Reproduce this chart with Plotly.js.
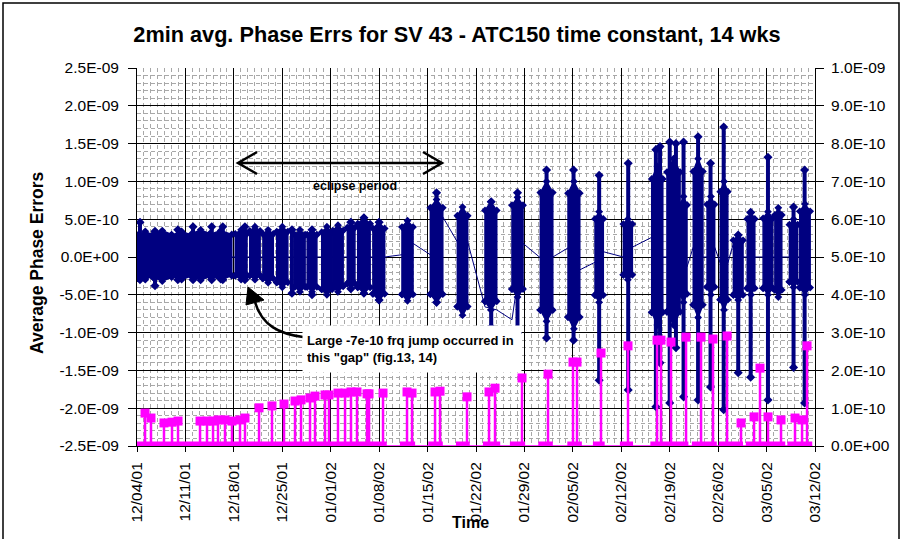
<!DOCTYPE html>
<html>
<head>
<meta charset="utf-8">
<script src="https://cdn.plot.ly/plotly-3.0.1.min.js"></script>
<style>html,body{margin:0;padding:0;background:#fff}#chart{width:902px;height:539px}</style>
</head>
<body>
<div id="chart"></div>
<script>
// ---------- DATA (time in days since 12/04/01, values in units of 1e-10) ----------
const UNIT = 1e-10;
const startDate = '2001-12-04';

// Blue series: phase-error clusters (dense 2-min data, summarised)
const coreStart = [0.1,2.3,5.0,7.9,10.5, 14.2,16.3,18.2,20.2,22.8,24.6,26.7,28.3,30.4,31.9,34.1, 38.3,42.4,46.3,50.3,54.2,58.3,62.3,66.2, 70.3,74.4,76.6,78.5,80.4,82.4,84.3,86.2,88.2,90.5,92.2,94.3,95.8];
const coreEnd   = [2.3,5.0,7.9,10.5,13.7, 15.9,17.8,19.7,21.8,24.3,26.0,28.2,29.8,31.5,33.7,35.8, 39.9,44.2,47.8,52.0,55.8,60.1,64.0,67.4, 71.6,76.0,78.5,79.5,81.8,83.5,85.4,87.6,89.3,91.9,93.2,95.5,97.3];
const coreLo    = [-3.0,-3.2,-3.0,-3.1,-3.0, -3.0,-3.0,-3.4,-4.0,-4.6,-4.6,-5.0,-4.6,-4.2,-4.8,-5.7, -5.8,-6.0,-7.7,-7.0,-5.3,-8.5,-9.5,-6.0, -3.0,-9.0,-9.0,-6.0,-8.0,-5.0,-7.0,-5.7,-5.0,-5.0,-5.3,-4.0,-5.0];
const coreHi    = [3.4,3.5,3.4,3.6,3.5, 3.6,4.0,3.6,4.0,3.6,3.6,4.0,4.2,4.6,5.2,4.6, 4.8,7.6,6.6,7.3,7.9,10.0,10.0,6.0, 5.0,12.0,13.0,8.0,13.0,8.0,10.0,2.9,5.9,6.0,6.5,5.0,7.0];
const linkIn    = [0,0,0,0,0, 0,0,0,0,0,0,0,0,0,0,0, 0.3,0.3,2.0,-6.6,-8.3,-0.1,1.2,-0.7, 0,2.6,0,0,1.3,0,-0.8,1.8,0,0,0,0,0];
const linkOut   = [0,0,0,0,0, 0,0,0,0,0,0,0,0,0,0,0, 1.8,5.3,2.0,-7.0,1.8,0,-1.7,0.7, 1.3,0,0,-1.3,0,1.3,-0.8,0,0,0,0,0,0];

const spikeDay = [0.43,2.6,5.9,8.1,10.8,12.4,15.6, 22.4,25.3,30.9,32.8,35.0, 43.3,51.2,55.0,59.2,63.1,66.8, 71.0,75.0,75.6,77.0,77.9,79.0,81.1,82.9,84.8,86.9,88.7,91.2,94.9,96.5];
const spikeLo  = [-3.0,-3.8,-3.0,-3.0,-3.0,-3.0,-3.0, -4.8,-5.0,-4.2,-4.8,-5.7, -6.0,-9.3,-10.05,-10.7,-11.0,-16.3, -17.6,-19.8,-14.0,-19.3,-12.0,-18.5,-18.9,-17.2,-20.2,-15.3,-15.9,-18.9,-14.6,-19.3];
const spikeHi  = [4.6,3.4,3.6,4.0,4.0,4.0,4.0, 3.6,3.6,4.6,5.2,4.6, 8.5,7.3,8.5,11.5,11.5,10.8, 12.4,14.2,14.6,15.2,15.0,15.2,15.9,12.4,17.2,2.9,5.9,13.2,6.6,11.5];

// Magenta series (right axis): event values and zero-runs
const stemDay = [1.16,2.02,3.90,5.06,5.93,9.11,10.12,10.99,11.71,12.72,13.73,14.89,15.61,17.64,19.51,21.25,22.84,23.71,25.01,25.73,27.18,27.75,29.05,30.07,30.93,31.80,33.25,33.54,35.56,39.03,39.75,43.08,43.80,47.70,50.88,51.75,55.65,59.41,63.02,63.60,67.07,70.97,75.17,75.74,77.19,79.36,81.53,83.26,85.29,87.31,89.19,90.05,91.21,93.09,95.11,96.13,96.85];
const stemVal = [0.87,0.74,0.61,0.63,0.66,0.66,0.66,0.66,0.69,0.69,0.66,0.69,0.74,1.01,1.06,1.11,1.19,1.22,1.27,1.32,1.35,1.35,1.40,1.40,1.43,1.43,1.38,1.38,1.40,1.43,1.40,1.43,1.45,1.30,1.43,1.53,1.80,1.90,2.22,2.22,2.46,2.65,2.80,2.80,2.75,2.88,2.88,2.83,2.91,0.61,0.77,2.06,0.77,0.69,0.74,0.69,2.65];
const bandStart = [0,38.0,42.1,46.1,50.0,53.9,58.0,62.2,65.9,69.8,74.2,80.2,84.1,88.0,94.0];
const bandEnd   = [36.1,40.2,44.2,48.1,52.5,56.1,60.1,64.3,67.6,71.7,79.7,83.8,87.6,93.7,97.6];

const leftTickVals = [2.5e-9,2.0e-9,1.5e-9,1.0e-9,5.0e-10,0,-5.0e-10,-1.0e-9,-1.5e-9,-2.0e-9,-2.5e-9];
const leftTickText = ['2.5E-09','2.0E-09','1.5E-09','1.0E-09','5.0E-10','0.0E+00','-5.0E-10','-1.0E-09','-1.5E-09','-2.0E-09','-2.5E-09'];
const rightTickVals = [0,1e-10,2e-10,3e-10,4e-10,5e-10,6e-10,7e-10,8e-10,9e-10,1e-9];
const rightTickText = ['0.0E+00','1.0E-10','2.0E-10','3.0E-10','4.0E-10','5.0E-10','6.0E-10','7.0E-10','8.0E-10','9.0E-10','1.0E-09'];

// ---------- BUILD ----------
const DAY = 86400000;
const T0 = Date.parse(startDate + 'T00:00:00Z');
const D = d => new Date(T0 + d * DAY).toISOString().slice(0, 19).replace('T', ' ');
const NAVY = '#000080', PINK = '#FF00FF';
const TAPER = 0.08; // drawing style: rounded-off cluster ends

// connectors
const lx = [], ly = [];
coreStart.forEach((s, i) => { lx.push(D(s), D(coreEnd[i])); ly.push(linkIn[i] * UNIT, linkOut[i] * UNIT); });
// cores as filled polygons (slightly tapered at top and bottom)
const cx = [], cy = [];
coreStart.forEach((s, i) => {
  const e = coreEnd[i], c = (s + e) / 2, lo = coreLo[i] * UNIT, hi = coreHi[i] * UNIT, t = (hi - lo) * TAPER;
  cx.push(D(s), D(s), D(c), D(e), D(e), D(c), D(s), null);
  cy.push(lo + t, hi - t, hi, hi - t, lo + t, lo, lo + t, null);
});
// spikes
const sx = [], sy = [];
spikeDay.forEach((d, i) => { sx.push(D(d), D(d), null); sy.push(spikeLo[i] * UNIT, spikeHi[i] * UNIT, null); });
// magenta
const bx = [], by = [];
bandStart.forEach((s, i) => { bx.push(D(s), D(bandEnd[i]), null); by.push(0, 0, null); });
const px = [], py = [];
stemDay.forEach((d, i) => { px.push(D(d), D(d), null); py.push(0, stemVal[i] * UNIT, null); });

const traces = [
  {x: lx, y: ly, mode: 'lines', line: {color: NAVY, width: 1}, hoverinfo: 'skip'},
  {x: cx, y: cy, mode: 'lines+markers', fill: 'toself', fillcolor: NAVY, line: {color: NAVY, width: 1.5},
   marker: {symbol: 'diamond', size: 6, color: NAVY}, hoverinfo: 'skip'},
  {x: sx, y: sy, mode: 'lines+markers', line: {color: NAVY, width: 4},
   marker: {symbol: 'diamond', size: 7, color: NAVY}, hoverinfo: 'skip'},
  {x: [D(0), D(97.6)], y: [0, 0], yaxis: 'y2', mode: 'lines', line: {color: PINK, width: 1.5}, hoverinfo: 'skip'},
  {x: bx, y: by, yaxis: 'y2', mode: 'lines', line: {color: PINK, width: 9}, hoverinfo: 'skip'},
  {x: px, y: py, yaxis: 'y2', mode: 'lines', line: {color: PINK, width: 2.5}, hoverinfo: 'skip'},
  {x: stemDay.map(D), y: stemVal.map(v => v * UNIT), yaxis: 'y2', mode: 'markers',
   marker: {symbol: 'square', size: 9, color: PINK}, hoverinfo: 'skip'}
];

// pixel -> paper helpers for decorations
const PL = 137, PR = 815, PT = 68, PB = 446;
const X = p => (p - PL) / (PR - PL);
const Y = p => (PB - p) / (PB - PT);
const pt = (a, b) => X(a).toFixed(5) + ',' + Y(b).toFixed(5);

const layout = {
  width: 902, height: 539,
  margin: {l: PL, r: 902 - PR, t: PT, b: 539 - PB, pad: 0},
  paper_bgcolor: '#fff', plot_bgcolor: '#fff',
  showlegend: false,
  font: {family: 'Liberation Sans, Arial, sans-serif', color: '#000', size: 15},
  title: {text: '<b>2min avg. Phase Errs for SV 43 - ATC150 time constant, 14 wks</b>',
          x: 457 / 902, xanchor: 'center', xref: 'container', y: 1 - 34 / 539, yanchor: 'middle', yref: 'container',
          font: {size: 21.7, color: '#000'}},
  xaxis: {
    type: 'date', range: [D(0), D(98)], tickmode: 'linear', tick0: D(0), dtick: 7 * DAY,
    tickformat: '%m/%d/%y', tickangle: -90, tickfont: {size: 15.5},
    showgrid: true, gridcolor: '#000', gridwidth: 1, zeroline: false,
    minor: {dtick: DAY, tick0: D(0), showgrid: true, gridcolor: '#a8a8a8', gridwidth: 1, griddash: '4px,3px'},
    showline: true, linecolor: '#000', linewidth: 1, ticks: 'outside', ticklen: 5, tickcolor: '#000',
    ticklabelstandoff: 4
  },
  yaxis: {
    range: [-2.5e-9, 2.5e-9], tickmode: 'array', tickvals: leftTickVals, ticktext: leftTickText,
    tickfont: {size: 15.5}, showgrid: true, gridcolor: '#000', gridwidth: 1, zeroline: false,
    minor: {dtick: 1e-10, tick0: 0, showgrid: true, gridcolor: '#a8a8a8', gridwidth: 1, griddash: '4px,3px'},
    showline: true, linecolor: '#000', linewidth: 1, ticks: 'outside', ticklen: 8, tickcolor: '#000',
    ticklabelstandoff: 6
  },
  yaxis2: {
    overlaying: 'y', side: 'right', range: [0, 1e-9], tickmode: 'array', tickvals: rightTickVals, ticktext: rightTickText,
    tickfont: {size: 15.5}, showgrid: false, zeroline: false,
    showline: true, linecolor: '#000', linewidth: 1, ticks: 'outside', ticklen: 8, tickcolor: '#000',
    ticklabelstandoff: 4
  },
  shapes: [
    {type: 'rect', xref: 'paper', yref: 'paper', x0: X(3), x1: X(899), y0: Y(560), y1: Y(3),
     line: {color: '#000', width: 1.5}, fillcolor: 'rgba(0,0,0,0)', layer: 'below'},
    {type: 'path', xref: 'paper', yref: 'paper',
     path: 'M' + pt(238,163) + 'L' + pt(442,163) + 'M' + pt(257,152) + 'L' + pt(238,163) + 'L' + pt(257,174) +
           'M' + pt(423,152) + 'L' + pt(442,163) + 'L' + pt(423,174),
     line: {color: '#000', width: 2.5}},
    {type: 'path', xref: 'paper', yref: 'paper',
     path: 'M' + pt(303,337) + 'C' + pt(280,334) + ' ' + pt(262,326) + ' ' + pt(255,302),
     line: {color: '#000', width: 2.5}},
    {type: 'path', xref: 'paper', yref: 'paper',
     path: 'M' + pt(248,287) + 'L' + pt(246,305) + 'L' + pt(264,300) + 'Z',
     line: {color: '#000', width: 1}, fillcolor: '#000'}
  ],
  annotations: [
    {xref: 'paper', yref: 'paper', x: X(355), y: Y(186), text: '<b>eclipse period</b>', showarrow: false,
     font: {size: 12.5, color: '#000'}, xanchor: 'center', yanchor: 'middle'},
    {xref: 'paper', yref: 'paper', x: X(302), y: Y(325), xanchor: 'left', yanchor: 'top',
     text: '<b>Large -7e-10 frq jump occurred in<br>this "gap" (fig.13, 14)</b>', showarrow: false,
     align: 'left', valign: 'middle', bgcolor: '#fff', borderpad: 4, width: 210, height: 38,
     font: {size: 13, color: '#000'}},
    {xref: 'paper', yref: 'paper', x: X(37), y: Y(263), text: '<b>Average Phase Errors</b>', showarrow: false,
     textangle: -90, font: {size: 17.5, color: '#000'}, xanchor: 'center', yanchor: 'middle'},
    {xref: 'paper', yref: 'paper', x: X(470), y: Y(522), text: '<b>Time</b>', showarrow: false,
     font: {size: 16, color: '#000'}, xanchor: 'center', yanchor: 'middle'}
  ]
};

Plotly.newPlot('chart', traces, layout, {staticPlot: true, displayModeBar: false});
</script>
</body>
</html>
